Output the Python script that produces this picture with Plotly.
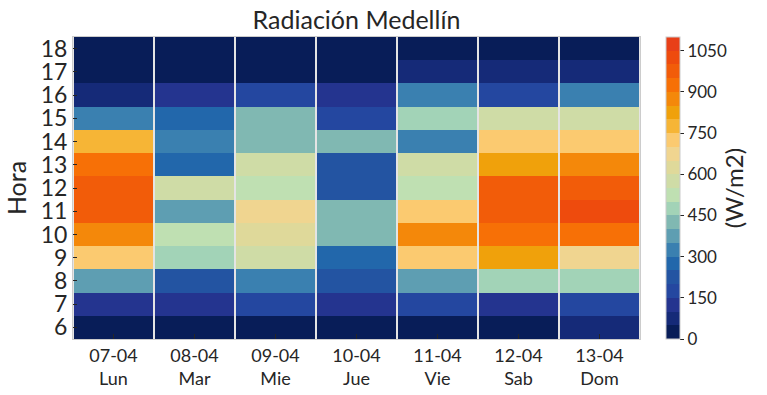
import plotly.graph_objects as go

fechas = ["07-04", "08-04", "09-04", "10-04", "11-04", "12-04", "13-04"]
dias = ["Lun", "Mar", "Mie", "Jue", "Vie", "Sab", "Dom"]
horas = [6, 7, 8, 9, 10, 11, 12, 13, 14, 15, 16, 17, 18]

# Radiación (W/m2) por hora (filas) y día (columnas)
h06 = [5, 8, 6, 4, 7, 9, 62]
h07 = [128, 135, 172, 120, 185, 130, 180]
h08 = [380, 230, 325, 215, 370, 470, 480]
h09 = [730, 470, 580, 280, 735, 830, 680]
h10 = [880, 530, 620, 430, 875, 930, 940]
h11 = [980, 385, 675, 420, 720, 975, 1020]
h12 = [990, 575, 525, 230, 540, 985, 970]
h13 = [920, 270, 560, 225, 565, 820, 880]
h14 = [790, 330, 425, 440, 320, 725, 735]
h15 = [340, 265, 410, 175, 480, 580, 590]
h16 = [75, 120, 160, 110, 330, 185, 340]
h17 = [2, 3, 4, 3, 60, 70, 65]
h18 = [0, 0, 0, 0, 1, 2, 1]
z = [h06, h07, h08, h09, h10, h11, h12, h13, h14, h15, h16, h17, h18]

colorbar_ticks = [0, 150, 300, 450, 600, 750, 900, 1050]
zmin, zmax = 0, 1100

bins = ["#081d58", "#152a78", "#24348f", "#2447a0", "#2354a2", "#2267ab",
        "#3a80b0", "#5e9eb2", "#80b8b2", "#a2d3b7", "#bfe0b2", "#cfdca6",
        "#dfd99a", "#f0d590", "#fbca70", "#f6b536", "#f0a10b", "#f4880a",
        "#f77006", "#f25c09", "#ee4b0d", "#e83f18"]
n = len(bins)
colorscale = []
for i, c in enumerate(bins):
    colorscale.append([i / n, c])
    colorscale.append([(i + 1) / n, c])

xlabels = [f"{f}<br>{d}" for f, d in zip(fechas, dias)]

font_family = "Lato, 'Noto Sans', sans-serif"
txt = "#262626"

fig = go.Figure(go.Heatmap(
    x=xlabels, y=horas, z=z,
    zmin=zmin, zmax=zmax, colorscale=colorscale,
    xgap=2,
    colorbar=dict(
        x=1.0459, xanchor="left", xpad=0,
        y=0.5, yanchor="middle", len=1, lenmode="fraction", ypad=0,
        thickness=14, outlinewidth=1, outlinecolor="#cccccc",
        tickmode="array", tickvals=colorbar_ticks,
        ticks="outside", ticklen=4, tickcolor=txt,
        tickfont=dict(size=17, color=txt, family=font_family),
        title=dict(text="(W/m2)", side="right",
                   font=dict(size=24, color=txt, family=font_family)),
    ),
))

fig.update_layout(
    width=767, height=395,
    margin=dict(l=73, r=127, t=37, b=56, autoexpand=False),
    paper_bgcolor="white", plot_bgcolor="#e4e4e4",
    title=dict(text="Radiación Medellín", x=(73 + 283.5) / 767, xanchor="center",
               y=1 - 20 / 395, yanchor="middle",
               font=dict(size=25, color=txt, family=font_family)),
    font=dict(family=font_family, color=txt),
)
fig.update_xaxes(
    tickfont=dict(size=18, color=txt), ticks="inside", ticklen=5, tickcolor=txt,
    showline=True, mirror=True, linecolor="#cccccc", linewidth=1, showgrid=False,
    automargin=False,
)
fig.update_yaxes(
    tickmode="array", tickvals=horas, tickfont=dict(size=23, color=txt),
    ticks="inside", ticklen=4, tickcolor=txt,
    showline=True, mirror=True, linecolor="#cccccc", linewidth=1, showgrid=False,
    title=dict(text="Hora", font=dict(size=25, color=txt), standoff=6),
    range=[5.5, 18.5], automargin=False,
)

fig.write_html(
    "out.html",
    config={"displayModeBar": False},
    post_script="document.body.style.margin='0px';document.body.style.overflow='hidden';",
)
